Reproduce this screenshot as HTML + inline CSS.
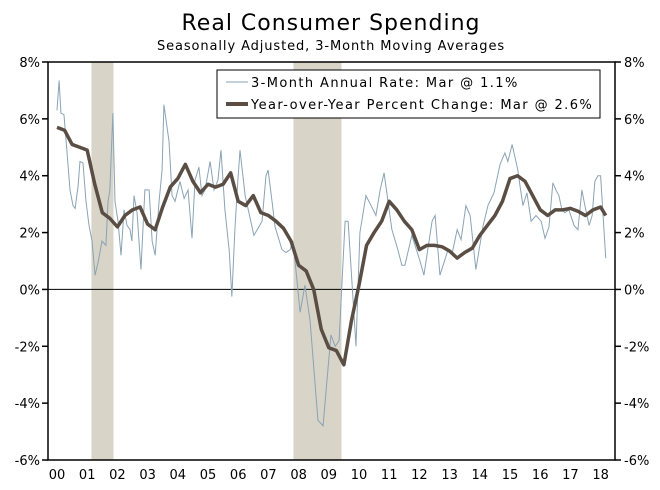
<!DOCTYPE html>
<html><head><meta charset="utf-8"><style>
body{margin:0;background:#fff;}
svg{display:block;font-family:"DejaVu Sans","Liberation Sans",sans-serif;}
</style></head><body>
<svg id="chart" width="660" height="490" viewBox="0 0 660 490" xmlns="http://www.w3.org/2000/svg">
<text x="331" y="30" text-anchor="middle" font-size="22" letter-spacing="1" fill="#000">Real Consumer Spending</text>
<text x="331" y="50" text-anchor="middle" font-size="13" letter-spacing="0.9" fill="#000">Seasonally Adjusted, 3-Month Moving Averages</text>
<g id="recessions"></g>
<g id="zero"></g>
<g id="series"></g>
<g id="axes"></g>
<g>
<rect x="217" y="70" width="383" height="48" fill="#fff" stroke="#000" stroke-width="1"/>
<line x1="226" y1="82" x2="248" y2="82" stroke="#8aa3b5" stroke-width="1"/>
<text x="251" y="87" font-size="13" letter-spacing="1.4">3-Month Annual Rate: Mar @ 1.1%</text>
<line x1="226" y1="104" x2="248" y2="104" stroke="#5a4e44" stroke-width="4"/>
<text x="251" y="109" font-size="13" letter-spacing="1.4">Year-over-Year Percent Change: Mar @ 2.6%</text>
</g>
</svg>
<script>
const recessionStarts=[2001.14,2007.83];
const recessionEnds=[2001.87,2009.42];
const yTicks=[8,6,4,2,0,-2,-4,-6];
const xTickYears=[0,1,2,3,4,5,6,7,8,9,10,11,12,13,14,15,16,17,18];
const rateDates=[2000.0,2000.07,2000.13,2000.23,2000.33,2000.43,2000.53,2000.6,2000.7,2000.76,2000.86,2000.96,2001.06,2001.16,2001.26,2001.36,2001.49,2001.62,2001.69,2001.75,2001.85,2001.92,2002.02,2002.12,2002.22,2002.32,2002.42,2002.48,2002.55,2002.65,2002.78,2002.91,2003.05,2003.15,2003.25,2003.38,2003.48,2003.54,2003.71,2003.81,2003.91,2004.07,2004.21,2004.34,2004.47,2004.57,2004.7,2004.8,2004.9,2005.07,2005.2,2005.33,2005.43,2005.56,2005.7,2005.79,2005.89,2005.99,2006.06,2006.23,2006.52,2006.79,2006.92,2006.99,2007.12,2007.22,2007.45,2007.58,2007.72,2007.81,2007.91,2008.05,2008.21,2008.38,2008.64,2008.81,2009.07,2009.21,2009.34,2009.54,2009.64,2009.9,2010.03,2010.23,2010.4,2010.56,2010.7,2010.83,2010.96,2011.09,2011.26,2011.42,2011.52,2011.75,2012.02,2012.15,2012.42,2012.52,2012.68,2012.95,2013.08,2013.25,2013.38,2013.54,2013.68,2013.87,2014.11,2014.27,2014.47,2014.67,2014.83,2014.93,2015.07,2015.26,2015.33,2015.43,2015.56,2015.7,2015.86,2016.03,2016.16,2016.29,2016.42,2016.52,2016.62,2016.72,2016.82,2016.95,2017.12,2017.25,2017.38,2017.48,2017.62,2017.72,2017.81,2017.91,2018.0,2018.17];
const rateValues=[6.3,7.35,6.2,6.15,4.85,3.5,2.95,2.85,3.65,4.5,4.45,3.1,2.25,1.7,0.5,0.95,1.7,1.55,3.1,3.5,6.2,3.1,2.4,1.2,2.8,2.25,2.1,1.7,3.3,2.7,0.7,3.5,3.5,1.7,1.2,3.1,4.2,6.5,5.2,3.3,3.1,3.8,3.2,3.5,1.8,3.85,4.3,3.3,3.5,4.5,3.5,3.85,4.9,2.8,1.4,-0.25,2.1,3.85,4.9,3.3,1.9,2.4,4.0,4.2,3.1,2.2,1.4,1.3,1.4,1.7,0.7,-0.8,0.15,-1.1,-4.6,-4.8,-1.6,-2.0,-1.8,2.4,2.4,-2.0,2.0,3.3,2.95,2.6,3.5,4.1,3.1,2.1,1.5,0.85,0.85,1.9,1.0,0.5,2.4,2.6,0.5,1.4,1.25,2.1,1.75,2.95,2.6,0.7,2.25,2.95,3.4,4.4,4.8,4.5,5.1,4.2,3.65,2.95,3.4,2.4,2.6,2.4,1.8,2.2,3.75,3.5,3.3,2.8,2.7,2.8,2.25,2.1,3.5,2.95,2.25,2.6,3.8,4.0,4.0,1.1];
const yoyDates=[2000.0,2000.25,2000.5,2000.75,2001.0,2001.25,2001.5,2001.75,2002.0,2002.25,2002.5,2002.75,2003.0,2003.25,2003.5,2003.75,2004.0,2004.25,2004.5,2004.75,2005.0,2005.25,2005.5,2005.75,2006.0,2006.25,2006.5,2006.75,2007.0,2007.25,2007.5,2007.75,2008.0,2008.25,2008.5,2008.75,2009.0,2009.25,2009.5,2009.75,2010.0,2010.25,2010.5,2010.75,2011.0,2011.25,2011.5,2011.75,2012.0,2012.25,2012.5,2012.75,2013.0,2013.25,2013.5,2013.75,2014.0,2014.25,2014.5,2014.75,2015.0,2015.25,2015.5,2015.75,2016.0,2016.25,2016.5,2016.75,2017.0,2017.25,2017.5,2017.75,2018.0,2018.17];
const yoyValues=[5.7,5.6,5.1,5.0,4.9,3.7,2.7,2.5,2.2,2.6,2.8,2.9,2.3,2.1,2.9,3.6,3.9,4.4,3.8,3.4,3.7,3.6,3.7,4.1,3.1,2.95,3.3,2.7,2.6,2.4,2.15,1.7,0.85,0.65,0.0,-1.4,-2.05,-2.15,-2.65,-1.1,0.15,1.55,2.0,2.4,3.1,2.8,2.4,2.1,1.4,1.55,1.55,1.5,1.35,1.1,1.3,1.45,1.9,2.25,2.6,3.1,3.9,4.0,3.8,3.3,2.8,2.6,2.8,2.8,2.85,2.75,2.6,2.8,2.9,2.6];

const NS='http://www.w3.org/2000/svg';
const L=48,R=615,T=62,B=460;
function xS(d){return 57+(d-2000)*30.2;}
function yS(v){return T+(8-v)*(B-T)/14;}
function mk(tag,attrs,parent){const e=document.createElementNS(NS,tag);for(const k in attrs)e.setAttribute(k,attrs[k]);parent.appendChild(e);return e;}
const rec=document.getElementById('recessions');
for(let i=0;i<recessionStarts.length;i++){
 const r=mk('rect',{x:xS(recessionStarts[i]),y:T,width:xS(recessionEnds[i])-xS(recessionStarts[i]),height:B-T,fill:'#d8d4c8'},rec);
 
 
}
const z=mk('line',{x1:L,x2:R,y1:yS(0),y2:yS(0),stroke:'#000','stroke-width':1},document.getElementById('zero'));


const ser=document.getElementById('series');
const p1=mk('polyline',{points:rateDates.map((d,i)=>xS(d)+','+yS(rateValues[i])).join(' '),fill:'none',stroke:'#8aa3b5','stroke-width':1},ser);


const p2=mk('polyline',{points:yoyDates.map((d,i)=>xS(d)+','+yS(yoyValues[i])).join(' '),fill:'none',stroke:'#5a4e44','stroke-width':3.5,'stroke-linejoin':'round'},ser);


const ax=document.getElementById('axes');
const fr=mk('rect',{x:L,y:T,width:R-L,height:B-T,fill:'none',stroke:'#000','stroke-width':1.5},ax);


yTicks.forEach(v=>{
 const y=yS(v);
 mk('line',{x1:L-6,x2:L,y1:y,y2:y,stroke:'#000','stroke-width':1.5},ax);
 mk('line',{x1:R,x2:R+6,y1:y,y2:y,stroke:'#000','stroke-width':1.5},ax);
 const t1=mk('text',{x:L-8,y:y+5,'text-anchor':'end','font-size':13},ax);t1.textContent=v+'%';
 
 
 const t2=mk('text',{x:R+9,y:y+5,'text-anchor':'start','font-size':13},ax);t2.textContent=v+'%';
 
 
});
xTickYears.forEach(yr=>{
 const t=mk('text',{x:xS(2000+yr),y:B+19,'text-anchor':'middle','font-size':13},ax);
 t.textContent=String(yr).padStart(2,'0');
 
 
});
</script>
</body></html>
